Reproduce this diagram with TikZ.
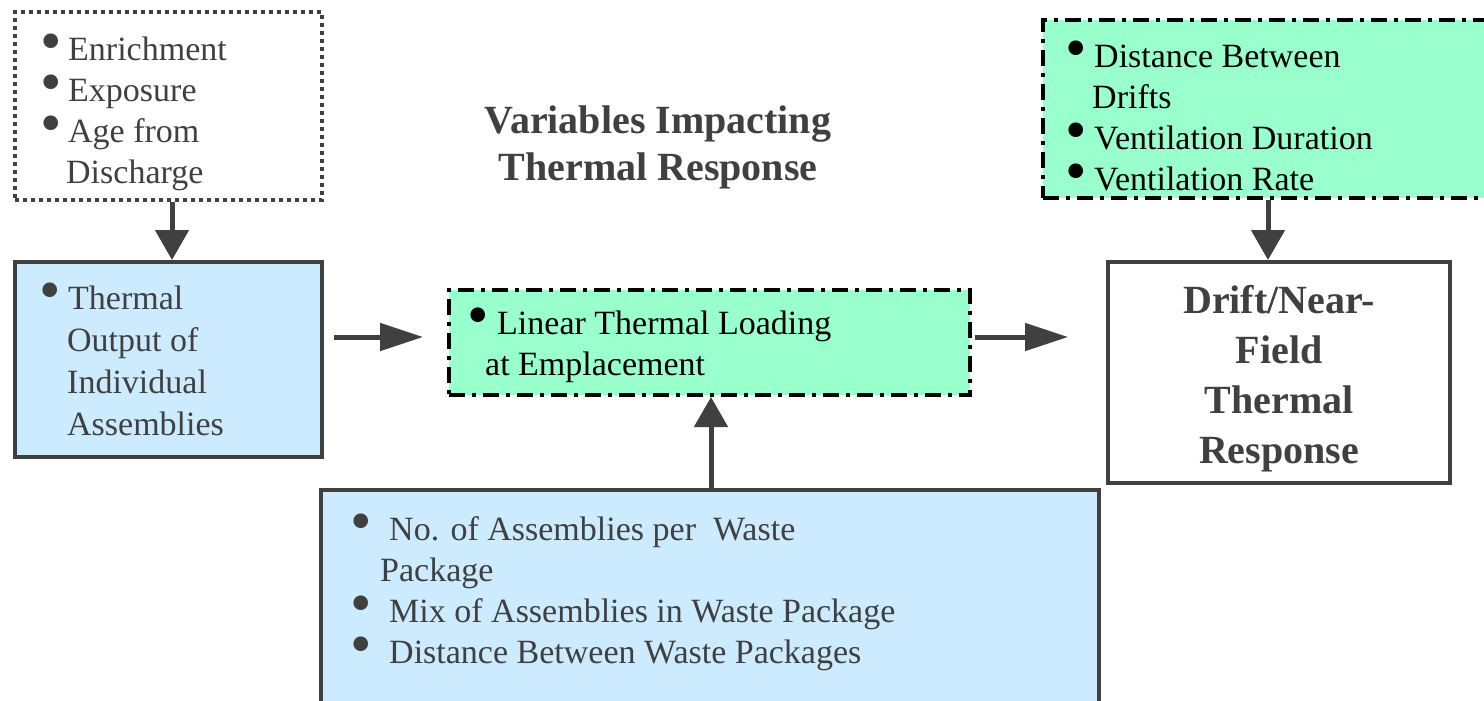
\documentclass[tikz,border=0pt]{standalone}
\usepackage{fontspec}
\setmainfont{Liberation Serif}
\usetikzlibrary{arrows.meta}
\definecolor{ink}{HTML}{404040}
\definecolor{lblue}{HTML}{CCEBFF}
\definecolor{lgreen}{HTML}{99FFCC}
\newcommand{\bul}[1]{\makebox[#1][l]{\raisebox{-1.5pt}{\scalebox{1.8}{\textbullet}}}}
\begin{document}
\begin{tikzpicture}[x=1pt,y=-1pt,
  box/.style={rectangle, inner sep=0pt, line width=4pt, draw=ink},
  dotbox/.style={box, dash pattern=on 4pt off 4pt},
  dashdotbox/.style={box, draw=black, fill=lgreen, dash pattern=on 16pt off 7pt on 4pt off 7pt},
  bluebox/.style={box, fill=lblue},
  txt/.style={align=left, inner sep=0pt, anchor=base west, text=ink, font=\fontsize{34}{41}\selectfont},
  gtxt/.style={txt, text=black},
  btxt/.style={align=center, inner sep=0pt, anchor=base, text=ink, font=\fontsize{40}{50}\selectfont\bfseries},
  varr/.style={draw=ink, line width=5pt, -{Triangle[length=30pt,width=33pt]}},
  harr/.style={draw=ink, line width=5pt, -{Triangle[length=43pt,width=27pt]}}
]
\useasboundingbox (0,0) rectangle (1484,701);

% boxes
\node[dotbox, minimum width=307pt, minimum height=188pt] (tl) at (168.5,106) {};
\node[bluebox, minimum width=307pt, minimum height=195pt] (lb) at (168.5,359.5) {};
\node[dashdotbox, minimum width=521pt, minimum height=105pt] (mg) at (709.5,342.5) {};
\node[dashdotbox, minimum width=457pt, minimum height=178pt] (tr) at (1271.5,109) {};
\node[box, fill=white, minimum width=342pt, minimum height=221pt] (drift) at (1279,372.5) {};
\node[bluebox, minimum width=778pt, minimum height=230pt] (bot) at (710,605) {};

% texts (anchored at the baseline of their last line)
\node[txt] (tltext) at (40,183) {\bul{28pt}Enrichment\\\bul{28pt}Exposure\\\bul{28pt}Age from\\\hspace*{26pt}Discharge};
\node[txt, font=\fontsize{34}{42}\selectfont] (lbtext) at (39,435) {\bul{29pt}Thermal\\\hspace*{28pt}Output of\\\hspace*{28pt}Individual\\\hspace*{28pt}Assemblies};
\node[gtxt] (mgtext) at (467,375) {\bul{30pt}Linear Thermal Loading\\\hspace*{18pt}at Emplacement};
\node[gtxt] (trtext) at (1065,190) {\bul{29pt}Distance Between\\\hspace*{27pt}Drifts\\\bul{29pt}Ventilation Duration\\\bul{29pt}Ventilation Rate};
\node[txt] (bottext) at (350,663) {\bul{39pt}No. of Assemblies per\ \ Waste\\\hspace*{30pt}Package\\\bul{39pt}Mix of Assemblies in Waste Package\\\bul{39pt}Distance Between Waste Packages};

\node[btxt, font=\fontsize{40}{47}\selectfont\bfseries] (title) at (658,180) {Variables Impacting\\Thermal Response};
\node[btxt] (drifttext) at (1279,463) {Drift/Near-\\Field\\Thermal\\Response};

% connectors
\coordinate (hy) at (0,337);
\draw[varr] ([xshift=3.5pt]tl.south) -- ([xshift=3.5pt]lb.north);
\draw[varr] ([xshift=1pt]bot.north) -- ([xshift=1.5pt]mg.south);
\draw[varr] ([xshift=-3.5pt]tr.south) -- ([xshift=-11pt]drift.north);
\draw[harr, shorten <=10pt, shorten >=24pt] (lb.east |- hy) -- (mg.west |- hy);
\draw[harr, shorten <=3pt, shorten >=38pt] (mg.east |- hy) -- (drift.west |- hy);
\end{tikzpicture}
\end{document}
